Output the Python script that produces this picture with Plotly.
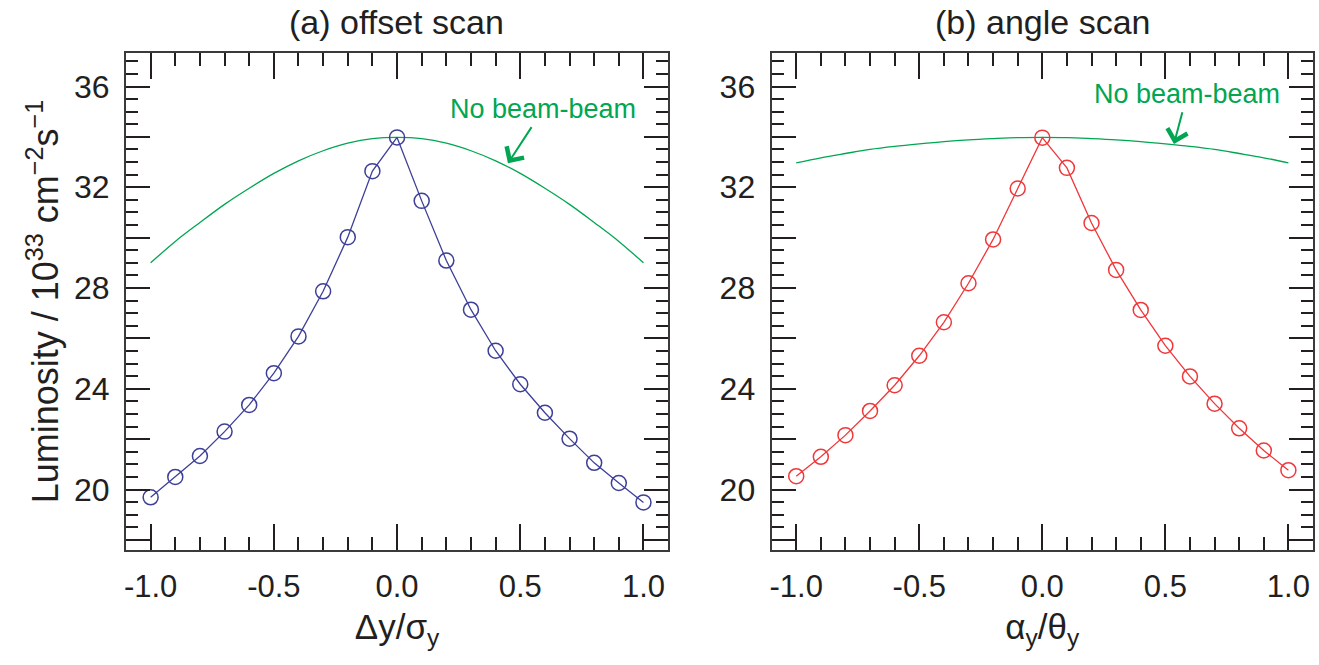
import plotly.graph_objects as go

# ---------------- data ----------------
x_scan = [-1.0, -0.9, -0.8, -0.7, -0.6, -0.5, -0.4, -0.3, -0.2, -0.1, 0.0,
          0.1, 0.2, 0.3, 0.4, 0.5, 0.6, 0.7, 0.8, 0.9, 1.0]

offset_lum = [19.69, 20.50, 21.33, 22.30, 23.36, 24.62, 26.08, 27.87, 30.02, 32.64, 33.98,
              31.46, 29.09, 27.14, 25.51, 24.18, 23.05, 22.02, 21.06, 20.26, 19.49]
offset_nobb = [29.00, 29.85, 30.60, 31.32, 31.96, 32.55, 33.05, 33.45, 33.75, 33.93, 33.98,
               33.93, 33.75, 33.45, 33.05, 32.55, 31.96, 31.32, 30.60, 29.85, 29.00]

angle_lum = [20.53, 21.30, 22.16, 23.12, 24.14, 25.31, 26.64, 28.19, 29.93, 31.95, 33.97,
             32.77, 30.58, 28.72, 27.13, 25.71, 24.49, 23.41, 22.43, 21.55, 20.77]
angle_nobb = [32.97, 33.17, 33.34, 33.50, 33.62, 33.72, 33.81, 33.88, 33.93, 33.97, 33.98,
              33.97, 33.93, 33.88, 33.81, 33.72, 33.62, 33.50, 33.34, 33.17, 32.97]

x_tickvals = [-1.0, -0.5, 0.0, 0.5, 1.0]
x_ticktext = ["-1.0", "-0.5", "0.0", "0.5", "1.0"]
y_label_vals = [20, 24, 28, 32, 36]
y_label_text = ["20", "24", "28", "32", "36"]
y_unlabeled_major = [18, 22, 26, 30, 34]

panel_titles = ["(a) offset scan", "(b) angle scan"]
x_titles = ["Δy/σ<sub>y</sub>", "α<sub>y</sub>/θ<sub>y</sub>"]
y_title = "Luminosity / 10<sup>33</sup> cm<sup>−2</sup>s<sup>−1</sup>"
note_text = "No beam-beam"

# ---------------- style ----------------
FONT = "Liberation Sans, Arial, Helvetica, sans-serif"
TXT = "#231f20"
TICK = "#231f20"
BLUE = "#3d3f98"
RED = "#f0373a"
GREEN = "#00a651"
YRANGE = [17.6, 37.33]

fig = go.Figure()

fig.add_trace(go.Scatter(x=x_scan, y=offset_nobb, mode="lines",
                         line=dict(color=GREEN, width=1.3), xaxis="x", yaxis="y",
                         showlegend=False, line_shape="spline"))
fig.add_trace(go.Scatter(x=x_scan, y=offset_lum, mode="lines+markers",
                         line=dict(color=BLUE, width=1.3),
                         marker=dict(symbol="circle-open", size=15, color=BLUE,
                                     line=dict(width=1.5, color=BLUE)),
                         xaxis="x", yaxis="y", showlegend=False))
fig.add_trace(go.Scatter(x=x_scan, y=angle_nobb, mode="lines",
                         line=dict(color=GREEN, width=1.3), xaxis="x2", yaxis="y2",
                         showlegend=False, line_shape="spline"))
fig.add_trace(go.Scatter(x=x_scan, y=angle_lum, mode="lines+markers",
                         line=dict(color=RED, width=1.3),
                         marker=dict(symbol="circle-open", size=15, color=RED,
                                     line=dict(width=1.5, color=RED)),
                         xaxis="x2", yaxis="y2", showlegend=False))

def xaxis(domain, anchor, title):
    return dict(domain=domain, anchor=anchor, range=[-1.1, 1.1],
                tickmode="array", tickvals=x_tickvals, ticktext=x_ticktext,
                ticks="inside", ticklen=26, tickwidth=2, tickcolor=TICK,
                minor=dict(tickmode="linear", tick0=0, dtick=0.1, ticks="inside",
                           ticklen=13, tickwidth=2, tickcolor=TICK, showgrid=False),
                showline=True, linewidth=2, linecolor="#3a3a3a", mirror="ticks",
                showgrid=False, zeroline=False, ticklabelstandoff=8,
                tickfont=dict(family=FONT, size=31, color=TXT),
                title=dict(text=title, font=dict(family=FONT, size=35, color=TXT), standoff=11))

def yaxis(anchor, title=None):
    d = dict(domain=[0, 1], anchor=anchor, range=YRANGE,
             tickmode="array", tickvals=y_label_vals, ticktext=y_label_text,
             ticks="inside", ticklen=24, tickwidth=2, tickcolor=TICK,
             minor=dict(tickmode="linear", tick0=0, dtick=0.5, ticks="inside",
                        ticklen=12, tickwidth=2, tickcolor=TICK, showgrid=False),
             showline=True, linewidth=2, linecolor="#3a3a3a", mirror="ticks",
             showgrid=False, zeroline=False, ticklabelstandoff=8,
             tickfont=dict(family=FONT, size=32, color=TXT))
    if title:
        d["title"] = dict(text=title, font=dict(family=FONT, size=36, color=TXT), standoff=4)
    return d

def yaxis_extra(anchor, over):
    # long unlabeled ticks every 4 units, offset by 2 from the labelled ones
    return dict(overlaying=over, anchor=anchor, range=YRANGE,
                tickmode="array", tickvals=y_unlabeled_major, showticklabels=False,
                ticks="inside", ticklen=24, tickwidth=2, tickcolor=TICK,
                showline=True, linewidth=2, linecolor="#3a3a3a", mirror="ticks",
                showgrid=False, zeroline=False)

fig.update_layout(
    width=1319, height=665,
    margin=dict(l=126, r=4, t=53, b=115),
    paper_bgcolor="white", plot_bgcolor="white",
    xaxis=xaxis([0, 0.4567], "y", x_titles[0]),
    yaxis=yaxis("x", y_title),
    xaxis2=xaxis([0.5439, 1], "y2", x_titles[1]),
    yaxis2=yaxis("x2"),
    yaxis3=yaxis_extra("x", "y"),
    yaxis4=yaxis_extra("x2", "y2"),
    font=dict(family=FONT, color=TXT),
)

# empty carriers so the overlay tick axes are drawn
fig.add_trace(go.Scatter(x=[None], y=[None], xaxis="x", yaxis="y3",
                         showlegend=False, hoverinfo="skip"))
fig.add_trace(go.Scatter(x=[None], y=[None], xaxis="x2", yaxis="y4",
                         showlegend=False, hoverinfo="skip"))

for i, t in enumerate(panel_titles):
    xc = [0.2283, 0.772][i]
    fig.add_annotation(text=t, xref="paper", yref="paper", x=xc, y=1.0,
                       xanchor="center", yanchor="bottom", yshift=10, showarrow=False,
                       font=dict(family=FONT, size=34, color=TXT))

# "No beam-beam" labels with arrows
fig.add_annotation(text=note_text, x=0.45, y=32.95, xref="x", yref="y",
                   ax=0.594, ay=35.11, axref="x", ayref="y",
                   showarrow=True, arrowhead=4, arrowsize=2.0, arrowwidth=2, arrowcolor=GREEN,
                   standoff=0, startstandoff=2,
                   font=dict(family=FONT, size=27, color=GREEN))
fig.add_annotation(text=note_text, x=0.535, y=33.72, xref="x2", yref="y2",
                   ax=0.589, ay=35.71, axref="x2", ayref="y2",
                   showarrow=True, arrowhead=4, arrowsize=2.0, arrowwidth=2, arrowcolor=GREEN,
                   standoff=0, startstandoff=2,
                   font=dict(family=FONT, size=27, color=GREEN))

fig.write_html("out.html")
